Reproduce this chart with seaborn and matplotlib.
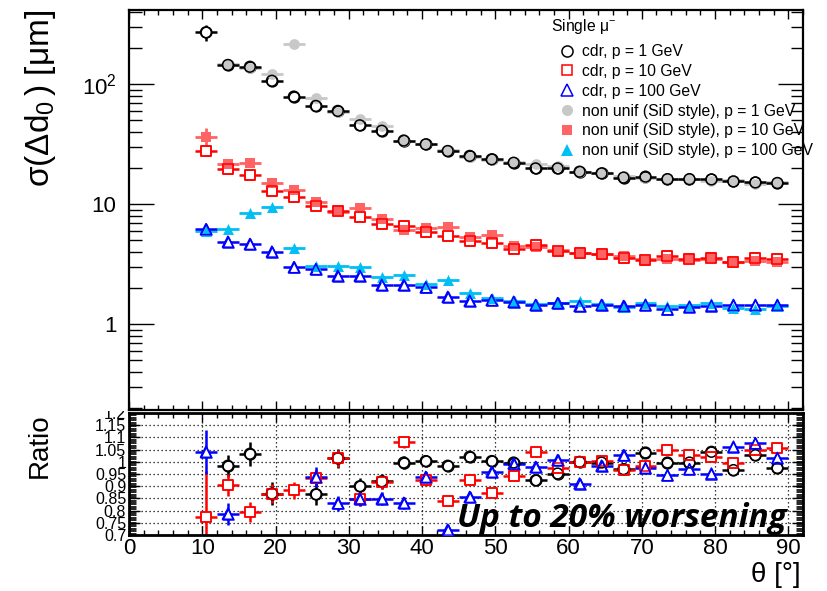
import numpy as np
import pandas as pd
import matplotlib
matplotlib.use("Agg")
import matplotlib.pyplot as plt
import seaborn as sns
from matplotlib.lines import Line2D
from matplotlib.patches import Rectangle
from matplotlib.ticker import FixedLocator, MultipleLocator, FixedFormatter, NullFormatter, LogLocator

nan = float("nan")

# ---------------- data ----------------
theta = [10.5, 13.5, 16.5, 19.5, 22.5, 25.5, 28.5, 31.5, 34.5, 37.5, 40.5, 43.5, 46.5, 49.5,
         52.5, 55.5, 58.5, 61.5, 64.5, 67.5, 70.5, 73.5, 76.5, 79.5, 82.5, 85.5, 88.5]
bin_half_width = 1.5

cdr_p1 = [271, 145, 140, 107, 79, 66, 60, 45.5, 41, 34, 31.6, 27.8, 25.3, 23.7,
          22.2, 19.9, 19.9, 18.7, 18.1, 16.7, 17.0, 16.2, 16.2, 16.1, 15.5, 15.2, 15.05]
cdr_p10 = [28.0, 19.6, 17.5, 13.0, 11.5, 9.7, 8.8, 7.9, 6.85, 6.6, 5.9, 5.4, 4.9, 4.78,
           4.2, 4.55, 4.05, 3.95, 3.86, 3.6, 3.45, 3.7, 3.5, 3.6, 3.31, 3.55, 3.5]
cdr_p100 = [6.2, 4.88, 4.67, 4.03, 2.99, 2.88, 2.54, 2.54, 2.13, 2.13, 2.03, 1.69, 1.57, 1.59,
            1.54, 1.45, 1.5, 1.42, 1.45, 1.42, 1.45, 1.33, 1.40, 1.43, 1.45, 1.45, 1.45]

nonunif_p1 = [nan, 147, 136, 122, 215, 77, 59, 51, 44.5, 34, 31.5, 28.2, 24.8, 23.6,
              22.3, 21.5, 20.9, 18.7, 18.2, 17.2, 16.4, 16.2, 16.2, 15.5, 16.0, 14.8, 15.4]
nonunif_p10 = [36.2, 21.7, 22.0, 15.0, 13.2, 10.4, 8.7, 9.3, 7.5, 6.1, 6.4, 6.5, 5.3, 5.5,
               4.45, 4.37, 4.15, 3.95, 3.85, 3.72, 3.5, 3.53, 3.41, 3.52, 3.32, 3.39, 3.31]
nonunif_p100 = [5.95, 6.2, 8.4, 9.44, 4.3, 3.07, 3.06, 2.99, 2.5, 2.55, 2.16, 2.34, 1.83, 1.66,
                1.55, 1.48, 1.49, 1.56, 1.47, 1.38, 1.49, 1.41, 1.44, 1.50, 1.37, 1.35, 1.43]

# relative uncertainties of the top-panel points
relerr_cdr_p1 = [0.15, 0.05, 0.05, 0.05, 0.04, 0.04, 0.04, 0.03, 0.03, 0.03, 0.03, 0.03, 0.02, 0.02,
                 0.02, 0.02, 0.02, 0.02, 0.02, 0.02, 0.02, 0.02, 0.02, 0.02, 0.02, 0.02, 0.02]
relerr_cdr_p10 = [0.10, 0.05, 0.05, 0.04, 0.04, 0.03, 0.03, 0.03, 0.03, 0.03, 0.02, 0.02, 0.02, 0.02,
                  0.02, 0.02, 0.02, 0.02, 0.02, 0.02, 0.02, 0.02, 0.02, 0.02, 0.02, 0.02, 0.02]
relerr_cdr_p100 = [0.05, 0.04, 0.04, 0.03, 0.03, 0.03, 0.03, 0.03, 0.02, 0.02, 0.02, 0.02, 0.02, 0.02,
                   0.02, 0.02, 0.02, 0.02, 0.02, 0.02, 0.02, 0.02, 0.02, 0.02, 0.02, 0.02, 0.02]
relerr_nonunif_p1 = [nan, 0.05, 0.05, 0.05, 0.04, 0.04, 0.04, 0.03, 0.03, 0.03, 0.03, 0.03, 0.02, 0.02,
                     0.02, 0.02, 0.02, 0.02, 0.02, 0.02, 0.02, 0.02, 0.02, 0.02, 0.02, 0.02, 0.02]
relerr_nonunif_p10 = [0.20, 0.06, 0.05, 0.04, 0.04, 0.03, 0.03, 0.03, 0.03, 0.03, 0.02, 0.02, 0.02, 0.02,
                      0.02, 0.02, 0.02, 0.02, 0.02, 0.02, 0.02, 0.02, 0.02, 0.02, 0.02, 0.02, 0.02]
relerr_nonunif_p100 = [0.05, 0.04, 0.04, 0.03, 0.03, 0.03, 0.03, 0.03, 0.02, 0.02, 0.02, 0.02, 0.02, 0.02,
                       0.02, 0.02, 0.02, 0.02, 0.02, 0.02, 0.02, 0.02, 0.02, 0.02, 0.02, 0.02, 0.02]

ratio_p1 = [nan, 0.984, 1.033, 0.870, nan, 0.867, 1.014, 0.900, 0.920, 0.997, 1.003, 0.984, 1.021, 1.003,
            0.997, 0.924, 0.952, 1.000, 0.997, 0.970, 1.038, 0.997, 0.997, 1.041, 0.966, 1.027, 0.975]
ratio_p10 = [0.773, 0.904, 0.794, 0.870, 0.884, 0.935, 1.014, 0.849, 0.918, 1.080, 0.924, 0.838, 0.924, 0.874,
             0.942, 1.041, 0.975, 1.000, 1.003, 0.966, 0.984, 1.048, 1.027, 1.021, 0.997, 1.048, 1.058]
ratio_p100 = [1.041, 0.787, nan, nan, nan, 0.938, 0.830, 0.849, 0.849, 0.832, 0.938, 0.722, 0.856, 0.959,
              0.993, 0.979, 1.007, 0.911, 0.984, 1.027, 0.975, 0.945, 0.970, 0.952, 1.062, 1.076, 1.016]

ratio_err_p1 = [nan, 0.045, 0.050, 0.048, nan, 0.045, 0.040, 0.035, 0.030, 0.025, 0.025, 0.022, 0.020, 0.020,
                0.020, 0.020, 0.020, 0.020, 0.020, 0.018, 0.018, 0.018, 0.018, 0.018, 0.018, 0.018, 0.018]
ratio_err_p10 = [0.190, 0.045, 0.040, 0.040, 0.035, 0.035, 0.035, 0.030, 0.028, 0.025, 0.022, 0.020, 0.020, 0.020,
                 0.020, 0.020, 0.020, 0.020, 0.020, 0.018, 0.018, 0.018, 0.018, 0.018, 0.018, 0.018, 0.018]
ratio_err_p100 = [0.090, 0.045, nan, nan, nan, 0.040, 0.030, 0.030, 0.028, 0.025, 0.022, 0.020, 0.020, 0.020,
                  0.020, 0.020, 0.020, 0.020, 0.020, 0.018, 0.018, 0.018, 0.018, 0.018, 0.018, 0.018, 0.018]

legend_labels = ["cdr, p = 1 GeV", "cdr, p = 10 GeV", "cdr, p = 100 GeV",
                 "non unif (SiD style), p = 1 GeV", "non unif (SiD style), p = 10 GeV",
                 "non unif (SiD style), p = 100 GeV"]
legend_header = "Single $μ^{-}$"
ratio_ticks = [0.7, 0.75, 0.8, 0.85, 0.9, 0.95, 1.0, 1.05, 1.1, 1.15, 1.2]
ratio_ticklabels = ["0.7", "0.75", "0.8", "0.85", "0.9", "0.95", "1", "1.05", "1.1", "1.15", "1.2"]
top_yticks = [1, 10, 100]
top_yticklabels = ["1", "10", "$10^{2}$"]

# ---------------- style ----------------
sns.set_theme(style="ticks")
plt.rcParams["font.family"] = ["Liberation Sans", "DejaVu Sans"]
plt.rcParams["mathtext.fontset"] = "custom"
plt.rcParams["mathtext.rm"] = "Liberation Sans"
plt.rcParams["mathtext.it"] = "Liberation Sans:italic"
plt.rcParams["mathtext.default"] = "regular"
plt.rcParams["axes.edgecolor"] = "black"
plt.rcParams["xtick.color"] = "black"
plt.rcParams["ytick.color"] = "black"
plt.rcParams["text.color"] = "black"
plt.rcParams["axes.labelcolor"] = "black"

BLACK, RED, BLUE = "#000000", "#FF0000", "#0000FF"
GRAY, SALMON, CYAN = "#C8C8C8", "#FF6464", "#00BFF5"

fig = plt.figure(figsize=(8.27, 5.91), dpi=100)
W, H = 827.0, 591.0
ax = fig.add_axes([129 / W, 1 - 410 / H, 674 / W, 400 / H])
axr = fig.add_axes([129 / W, 1 - 535 / H, 674 / W, 122 / H])

df = pd.DataFrame({"theta": theta,
                   "cdr_p1": cdr_p1, "cdr_p10": cdr_p10, "cdr_p100": cdr_p100,
                   "nu_p1": nonunif_p1, "nu_p10": nonunif_p10, "nu_p100": nonunif_p100,
                   "r_p1": ratio_p1, "r_p10": ratio_p10, "r_p100": ratio_p100})

x = np.array(theta)


def bars(a, y, yerr, color, lw, z):
    a.errorbar(x, y, xerr=bin_half_width, yerr=yerr, fmt="none", ecolor=color,
               elinewidth=lw, capsize=0, zorder=z)


def marks(a, col, marker, s, face, edge, lw, z):
    sns.scatterplot(data=df, x="theta", y=col, marker=marker, s=s, color=edge,
                    facecolor=face, edgecolor=edge, linewidth=lw, zorder=z,
                    ax=a, legend=False)


# ---------------- top panel ----------------
cdr = [("cdr_p1", cdr_p1, relerr_cdr_p1, BLACK, "o", 60),
       ("cdr_p10", cdr_p10, relerr_cdr_p10, RED, "s", 52),
       ("cdr_p100", cdr_p100, relerr_cdr_p100, BLUE, "^", 62)]
nu = [("nu_p1", nonunif_p1, relerr_nonunif_p1, GRAY, "o", 60),
      ("nu_p10", nonunif_p10, relerr_nonunif_p10, SALMON, "s", 52),
      ("nu_p100", nonunif_p100, relerr_nonunif_p100, CYAN, "^", 62)]

for col, vals, rel, c, m, s in nu:
    bars(ax, np.array(vals), np.array(vals) * np.array(rel), c, 2.0, 2)
for col, vals, rel, c, m, s in cdr:
    bars(ax, np.array(vals), np.array(vals) * np.array(rel), c, 1.8, 2.5)
for col, vals, rel, c, m, s in cdr:
    marks(ax, col, m, s, "white", c, 1.1, 3)
for col, vals, rel, c, m, s in nu:
    marks(ax, col, m, s, c, c, 0.0, 4)
for col, vals, rel, c, m, s in cdr:
    marks(ax, col, m, s, "none", c, 1.1, 5)

ax.set_xlim(0, 92)
ax.set_yscale("log")
ax.set_ylim(0.193, 416)
ax.yaxis.set_major_locator(FixedLocator(top_yticks))
ax.yaxis.set_major_formatter(FixedFormatter(top_yticklabels))
ax.yaxis.set_minor_locator(LogLocator(base=10, subs=np.arange(2, 10)))
ax.yaxis.set_minor_formatter(NullFormatter())
ax.xaxis.set_major_locator(MultipleLocator(10))
ax.xaxis.set_minor_locator(MultipleLocator(2))
ax.tick_params(axis="y", which="major", direction="in", length=18, width=1.0,
               left=True, right=True, labelsize=16, pad=9)
ax.tick_params(axis="y", which="minor", direction="in", length=9, width=1.0, left=True, right=True)
ax.tick_params(axis="x", which="major", direction="in", length=6.5, width=1.0,
               top=True, bottom=True, labelbottom=False)
ax.tick_params(axis="x", which="minor", direction="in", length=3.5, width=1.0, top=True, bottom=True)
for sp in ax.spines.values():
    sp.set_linewidth(1.6)
    sp.set_color("black")
ax.set_xlabel("")
ax.set_ylabel("$σ(Δd_{0}\\,)$ [μm]", fontsize=24, loc="top")
ax.yaxis.set_label_coords(-0.106, 1.0)

handles = [
    Line2D([], [], ls="none", marker="o", ms=8, mfc="none", mec=BLACK, mew=1.1),
    Line2D([], [], ls="none", marker="s", ms=7.5, mfc="none", mec=RED, mew=1.1),
    Line2D([], [], ls="none", marker="^", ms=8, mfc="none", mec=BLUE, mew=1.1),
    Line2D([], [], ls="none", marker="o", ms=8, mfc=GRAY, mec=GRAY, mew=0),
    Line2D([], [], ls="none", marker="s", ms=7.5, mfc=SALMON, mec=SALMON, mew=0),
    Line2D([], [], ls="none", marker="^", ms=8, mfc=CYAN, mec=CYAN, mew=0),
]
leg = ax.legend(handles, legend_labels, loc="upper left", bbox_to_anchor=((559 - 129) / 674, 1 - (44 - 10) / 400),
                frameon=False, fontsize=11.3, handlelength=1.0, handletextpad=0.45,
                labelspacing=0.31, borderpad=0, borderaxespad=0)
leg.set_zorder(10)
ax.text((551 - 129) / 674, 1 - (27 - 10) / 400, legend_header, transform=ax.transAxes,
        ha="left", va="center", fontsize=11.3, zorder=10)

# ---------------- ratio panel ----------------
ratio = [("r_p1", ratio_p1, ratio_err_p1, BLACK, "o", 60),
         ("r_p10", ratio_p10, ratio_err_p10, RED, "s", 52),
         ("r_p100", ratio_p100, ratio_err_p100, BLUE, "^", 62)]
for col, vals, err, c, m, s in ratio:
    bars(axr, np.array(vals), np.array(err), c, 1.8, 2)
for col, vals, err, c, m, s in ratio:
    marks(axr, col, m, s, "white", c, 1.1, 3)
for col, vals, err, c, m, s in ratio:
    marks(axr, col, m, s, "none", c, 1.1, 4)

axr.set_xlim(0, 92)
axr.set_ylim(0.7, 1.2)
axr.yaxis.set_major_locator(FixedLocator(ratio_ticks))
axr.yaxis.set_major_formatter(FixedFormatter(ratio_ticklabels))
axr.yaxis.set_minor_locator(MultipleLocator(0.005))
axr.xaxis.set_major_locator(MultipleLocator(10))
axr.xaxis.set_minor_locator(MultipleLocator(2))
axr.tick_params(axis="y", which="major", direction="in", length=8, width=1.0,
                left=True, right=True, labelsize=11.5, pad=2)
axr.tick_params(axis="y", which="minor", direction="in", length=5, width=0.6, left=True, right=True)
axr.tick_params(axis="x", which="major", direction="in", length=6.5, width=1.0,
                top=True, bottom=True, labelsize=16, pad=2)
axr.tick_params(axis="x", which="minor", direction="in", length=3.5, width=1.0, top=True, bottom=True)
axr.grid(True, which="major", color="black", linestyle=(0, (1, 2.2)), linewidth=0.9)
axr.set_axisbelow(True)
for sp in axr.spines.values():
    sp.set_linewidth(2.0)
    sp.set_color("black")
axr.set_ylabel("Ratio", fontsize=20, loc="top")
axr.yaxis.set_label_coords(-0.113, 1.0)
axr.set_xlabel("θ [°]", fontsize=20, loc="right")
axr.xaxis.set_label_coords(0.997, -0.22)
axr.text((457 - 129) / 674, (535 - 527) / 122, "Up to 20% worsening", transform=axr.transAxes,
         ha="left", va="baseline", fontsize=24, fontweight="bold", fontstyle="italic",
         family=["Open Sans", "DejaVu Sans"], zorder=10)

# white mask hiding the upper part of the top ratio label (pad overlap as in original)
fig.patches.append(Rectangle((0.08, 1 - 411 / H), 129 / W - 0.082, 12 / H,
                             transform=fig.transFigure, facecolor="white",
                             edgecolor="none", zorder=5))

fig.savefig("out.png", dpi=100)
